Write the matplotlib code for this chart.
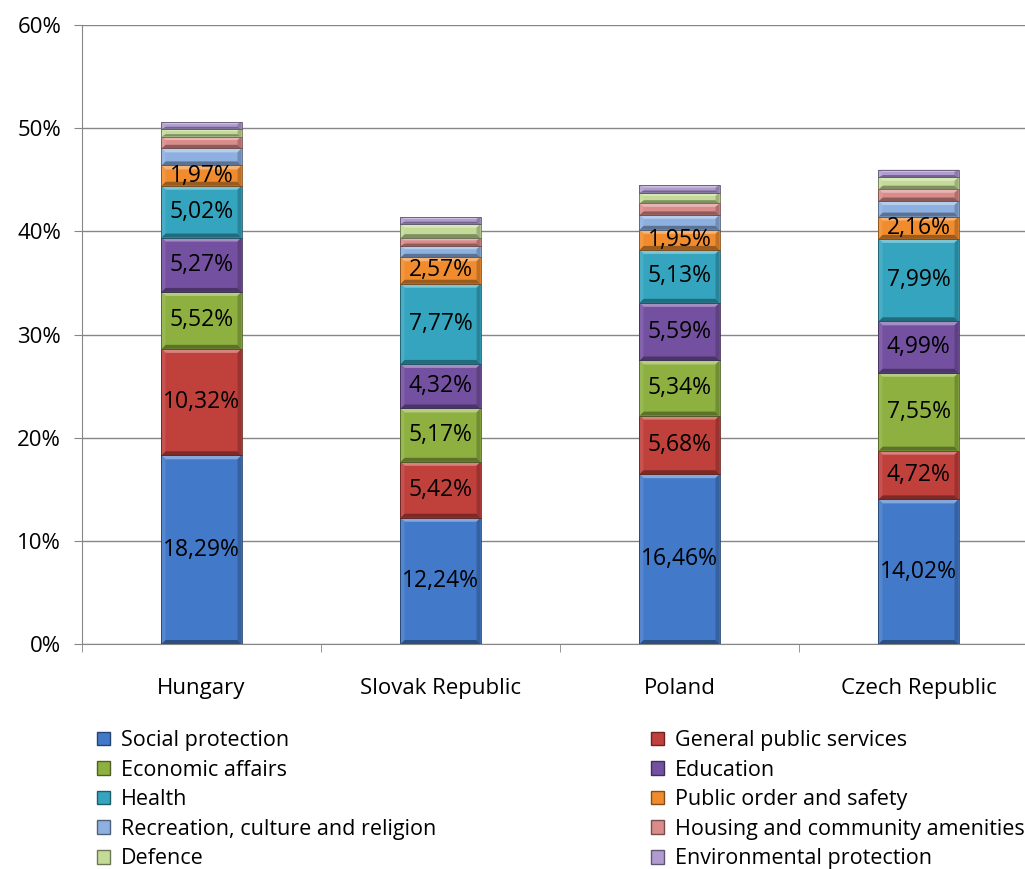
import matplotlib.pyplot as plt
import numpy as np
from matplotlib.patches import Patch
from matplotlib.colors import to_rgb

plt.rcParams['font.family'] = ['Open Sans', 'DejaVu Sans']

countries = ['Hungary', 'Slovak Republic', 'Poland', 'Czech Republic']
categories = ['Social protection', 'General public services', 'Economic affairs',
              'Education', 'Health', 'Public order and safety',
              'Recreation, culture and religion', 'Housing and community amenities',
              'Defence', 'Environmental protection']

# share of GDP per function, one list per category (bottom to top)
social = [18.29, 12.24, 16.46, 14.02]
general = [10.32, 5.42, 5.68, 4.72]
economic = [5.52, 5.17, 5.34, 7.55]
education = [5.27, 4.32, 5.59, 4.99]
health = [5.02, 7.77, 5.13, 7.99]
public_order = [1.97, 2.57, 1.95, 2.16]
recreation = [1.65, 1.10, 1.45, 1.50]
housing = [1.15, 0.75, 1.10, 1.15]
defence = [0.75, 1.40, 1.05, 1.15]
environment = [0.65, 0.65, 0.70, 0.75]

series = [social, general, economic, education, health, public_order,
          recreation, housing, defence, environment]
labelled = 6  # first six categories carry value labels

colors = ['#4279C8', '#C0403C', '#8DB040', '#7451A0', '#35A5BF', '#F08C2E',
          '#8DB0E0', '#D98C8A', '#C4DB98', '#B09CD0']


def shade(c, f):
    r = np.array(to_rgb(c))
    if f > 0:
        return tuple(r + (1 - r) * f)
    return tuple(r * (1 + f))


fig = plt.figure(figsize=(10.25, 8.69), dpi=100)
ax = fig.add_axes([82 / 1025, 1 - 644 / 869, 956 / 1025, 619 / 869])

x = np.arange(len(countries))
width = 0.335
bx = 4 / 239     # bevel width in category units
by = 4 / 10.32   # bevel height in percent units


def bevel_bar(xc, b, h, c):
    x0, x1 = xc - width / 2, xc + width / 2
    y0, y1 = b, b + h
    dy = min(by, h * 0.3)
    dx = bx
    ax.fill([x0, x1, x1, x0], [y0, y0, y1, y1], color=c, lw=0, zorder=3)
    # top, bottom, left, right bevel faces
    ax.fill([x0, x1, x1 - dx, x0 + dx], [y1, y1, y1 - dy, y1 - dy],
            color=shade(c, 0.35), lw=0, zorder=3)
    ax.fill([x0, x1, x1 - dx, x0 + dx], [y0, y0, y0 + dy, y0 + dy],
            color=shade(c, -0.35), lw=0, zorder=3)
    ax.fill([x0, x0 + dx, x0 + dx, x0], [y0, y0 + dy, y1 - dy, y1],
            color=shade(c, 0.1), lw=0, zorder=3)
    ax.fill([x1, x1 - dx, x1 - dx, x1], [y0, y0 + dy, y1 - dy, y1],
            color=shade(c, -0.2), lw=0, zorder=3)
    ax.plot([x0, x1, x1, x0, x0], [y0, y0, y1, y1, y0],
            color=shade(c, -0.45), lw=0.6, zorder=3)


bottom = np.zeros(len(countries))
for i, vals in enumerate(series):
    vals = np.array(vals)
    for xi, b, v in zip(x, bottom, vals):
        bevel_bar(xi, b, v, colors[i])
        if i < labelled:
            ax.text(xi, b + v / 2, f'{v:.2f}%'.replace('.', ','), ha='center',
                    va='center', fontsize=16.5, color='black', zorder=4)
    bottom += vals

ax.set_xlim(-0.5, 3.5)
ax.set_ylim(0, 60)
ax.set_yticks(np.arange(0, 61, 10))
ax.set_yticklabels([f'{v}%' for v in range(0, 61, 10)], fontsize=16)
ax.set_xticks(x)
ax.set_xticklabels(countries, fontsize=16)
ax.set_xticks(np.arange(-0.5, 4, 1), minor=True)
ax.tick_params(axis='x', which='major', length=0, pad=24.5)
ax.tick_params(axis='x', which='minor', length=6, color='#868686')
ax.tick_params(axis='y', length=6, color='#868686', pad=9)
ax.yaxis.grid(True, color='#868686', linewidth=1, zorder=0)
for s in ['top', 'right']:
    ax.spines[s].set_visible(False)
for s in ['left', 'bottom']:
    ax.spines[s].set_color('#868686')

handles = [Patch(facecolor=colors[i], edgecolor=shade(colors[i], -0.45),
                 label=categories[i]) for i in range(len(categories))]
leg_kw = dict(loc='upper left', frameon=False, fontsize=15.5, handlelength=0.6,
              handleheight=0.6, handletextpad=0.5, labelspacing=0.4,
              borderpad=0, borderaxespad=0)
fig.legend(handles=handles[0::2], bbox_to_anchor=(97 / 1025, 1 - 730 / 869), **leg_kw)
fig.legend(handles=handles[1::2], bbox_to_anchor=(651 / 1025, 1 - 730 / 869), **leg_kw)

fig.savefig('out.png', dpi=100)
